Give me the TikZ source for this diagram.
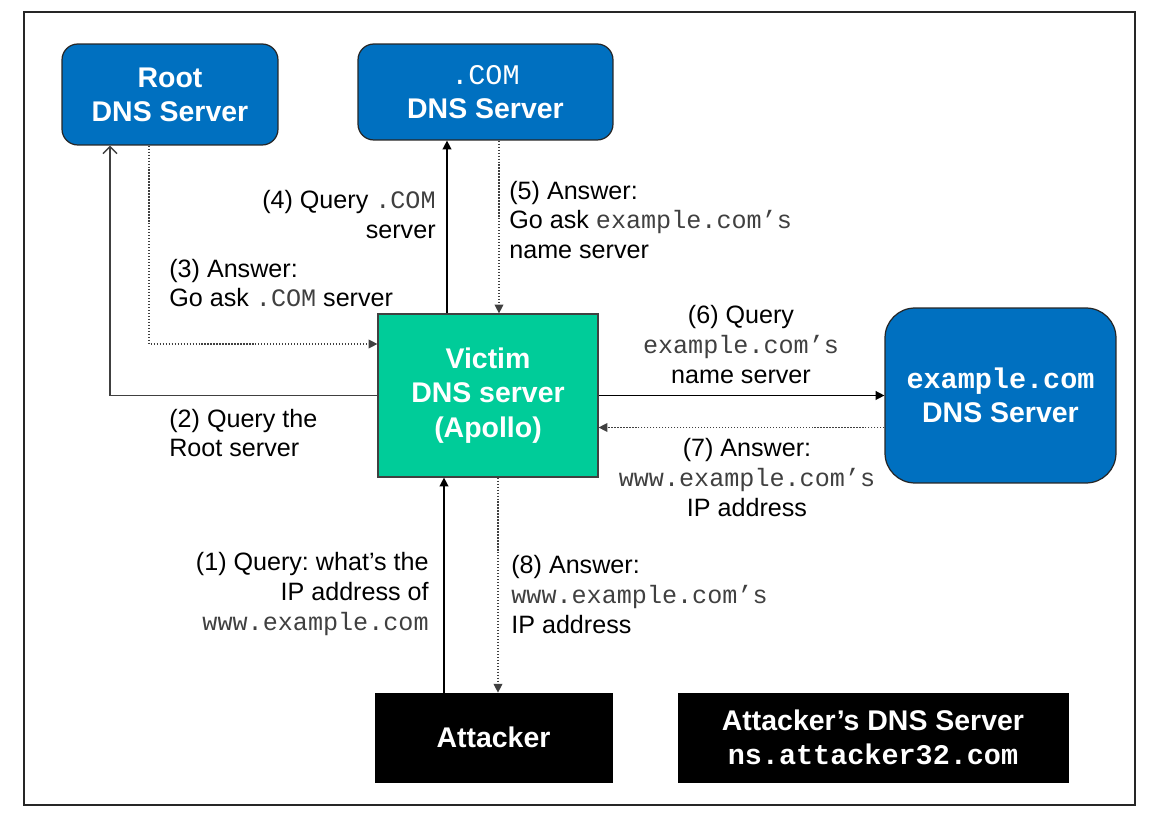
\documentclass[tikz,border=0pt]{standalone}
\usepackage{fontspec}
\setmainfont{Liberation Sans}
\setmonofont{Liberation Mono}
\usepackage{tikz}
\usetikzlibrary{arrows.meta, calc}
\definecolor{srvblue}{RGB}{0, 112, 192}
\definecolor{victimgreen}{RGB}{0, 204, 153}
\definecolor{linegray}{RGB}{64, 64, 64}

\newcommand{\lcode}[1]{{\color{black!75}\ttfamily #1}}
\frenchspacing

\begin{document}
\begin{tikzpicture}[x=0.02cm, y=-0.02cm,
  boxtext/.style={font=\bfseries\fontsize{16.2}{19.5}\selectfont, align=center, text=white, inner sep=0pt},
  server/.style={boxtext, draw=black!85, line width=0.7pt, fill=srvblue, rounded corners=9pt},
  attack/.style={boxtext, draw=black, fill=black},
  lbl/.style={font=\fontsize{14.3}{17}\selectfont, inner sep=0pt},
  query/.style={draw=black, line width=0.8pt, -{Triangle[length=5pt, width=5pt]}},
  answer/.style={draw=linegray, line width=0.7pt, densely dotted, -{Triangle[length=5pt, width=5pt]}}
]

  \useasboundingbox (0, 0) rectangle (1154, 817);
  \draw[black!85, line width=0.8pt] (24, 12) rectangle (1135, 805);

  % servers
  \node[server, minimum width=4.32cm, minimum height=2.02cm] (root) at (170, 94.5) {Root\\DNS Server};
  \node[server, minimum width=5.1cm, minimum height=1.92cm] (com) at (485.5, 92) {{\mdseries\ttfamily .COM}\\DNS Server};
  \node[boxtext, draw=black!75, line width=0.7pt, fill=victimgreen, minimum width=4.4cm, minimum height=3.26cm] (victim) at (488, 395.5) {Victim\\DNS server\\(Apollo)};
  \node[server, rounded corners=17pt, minimum width=4.62cm, minimum height=3.5cm] (example) at (1000.5, 395.5) {{\ttfamily example.com}\\DNS Server};
  \node[attack, minimum width=4.74cm, minimum height=1.78cm] (attacker) at (493.5, 737.5) {Attacker};
  \node[attack, minimum width=7.8cm, minimum height=1.78cm] (attdns) at (873, 737.5) {Attacker’s DNS Server\\{\ttfamily ns.attacker32.com}};

  % where the lines leave and meet the boxes
  \coordinate (q2) at ($(root.south)+(-60, 0)$);
  \coordinate (a3) at ($(root.south)+(-21, 0)$);
  \coordinate (a3in) at ($(victim.west)+(0, -51.5)$);
  \coordinate (q4) at ($(victim.north)+(-41, 0)$);
  \coordinate (a5) at ($(victim.north)+(11, 0)$);
  \coordinate (a7) at ($(example.west)+(0, 32)$);
  \coordinate (q1) at ($(victim.south)+(-44, 0)$);
  \coordinate (a8) at ($(victim.south)+(10, 0)$);

  \draw[linegray, line width=0.8pt, -{Straight Barb[length=4pt, width=8pt]}] (victim.west) -| (q2);
  \draw[answer] (a3) |- (a3in);
  \draw[query] (q4) -- (q4 |- com.south);
  \draw[answer] (a5 |- com.south) -- (a5);
  \draw[query] (victim.east) -- (example.west);
  \draw[answer] (a7) -- (a7 -| victim.east);
  \draw[query] (q1 |- attacker.north) -- (q1);
  \draw[answer] (a8) -- (a8 |- attacker.north);

  % step labels
  \node[lbl, align=right, anchor=east] (l1) at (429, 594) {(1) Query: what’s the\\IP address of\\\lcode{www.example.com}};
  \node[lbl, align=left, anchor=west] (l2) at (169, 433) {(2) Query the\\Root server};
  \node[lbl, align=left, anchor=west] (l3) at (169, 283) {(3) Answer:\\Go ask \lcode{.COM} server};
  \node[lbl, align=right, anchor=east] (l4) at (436, 214.5) {(4) Query \lcode{.COM}\\server};
  \node[lbl, align=left, anchor=west] (l5) at (509, 220) {(5) Answer:\\Go ask \lcode{example.com’s}\\name server};
  \node[lbl, align=center] (l6) at (741, 344.5) {(6) Query\\\lcode{example.com’s}\\name server};
  \node[lbl, align=center] (l7) at (747, 477.5) {(7) Answer:\\\lcode{www.example.com’s}\\IP address};
  \node[lbl, align=left, anchor=west] (l8) at (511, 594.5) {(8) Answer:\\\lcode{www.example.com’s}\\IP address};

\end{tikzpicture}
\end{document}
